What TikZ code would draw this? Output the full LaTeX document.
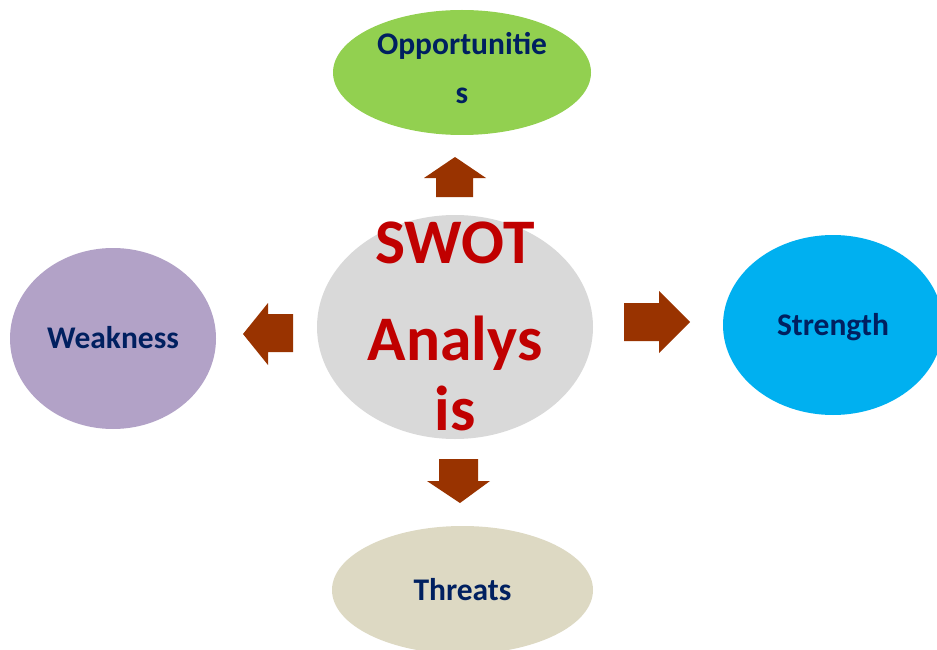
\documentclass[tikz,border=0pt]{standalone}
\usepackage{fontspec}
\setmainfont{Carlito}
\usetikzlibrary{shapes.geometric}
\definecolor{oppgreen}{HTML}{92D050}
\definecolor{swotgray}{HTML}{D9D9D9}
\definecolor{strblue}{HTML}{00B0F0}
\definecolor{weaklilac}{HTML}{B2A2C7}
\definecolor{thrbeige}{HTML}{DDD9C3}
\definecolor{arrbrown}{HTML}{993300}
\definecolor{txtblue}{HTML}{002060}
\definecolor{swotred}{HTML}{C00000}
\begin{document}
\begin{tikzpicture}[x=1pt,y=-1pt,
    blob/.style={ellipse,inner sep=0pt,text=txtblue,text height=20pt,text depth=0pt,
      font=\bfseries\fontsize{31.5}{49}\selectfont},
    blockarr/.style={fill=arrbrown}]
      \clip (0,0) rectangle (937,650);
      \node[blob,fill=swotgray,minimum width=276pt,minimum height=224pt] (swot) at (455,327) {};
      \node[blob,fill=oppgreen,align=center,text height=66pt,text depth=3pt,minimum width=258pt,minimum height=125pt] (opp) at (462,72.5) {Opportunitie\\s};
      \node[blob,fill=strblue,minimum width=220pt,minimum height=180pt] (str) at (833,325) {Strength};
      \node[blob,fill=weaklilac,minimum width=206pt,minimum height=181pt] (weak) at (113,338.5) {Weakness};
      \node[blob,fill=thrbeige,minimum width=261pt,minimum height=128pt] (thr) at (462.5,590) {Threats};
      \node[anchor=base,align=center,text=swotred,font=\bfseries\fontsize{63.5}{70}\selectfont] (swottext) at (455,430) {SWOT\\[27pt]Analys\\is};
      \fill[blockarr] (455,157) -- (486,178) -- (473,178) -- (473,197) -- (436,197) -- (436,178) -- (424,178) -- cycle;
      \fill[blockarr] (243,334) -- (268,303) -- (268,314) -- (293,314) -- (293,352) -- (268,352) -- (268,365) -- cycle;
      \fill[blockarr] (690,322) -- (659,291) -- (659,303) -- (624,303) -- (624,341) -- (659,341) -- (659,353) -- cycle;
      \fill[blockarr] (460,503) -- (490,481) -- (478,481) -- (478,459) -- (439,459) -- (439,481) -- (427,481) -- cycle;
    \end{tikzpicture}
\end{document}
